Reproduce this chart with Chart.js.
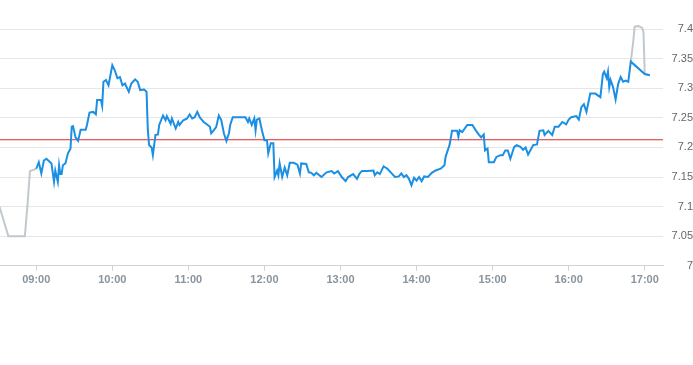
<!DOCTYPE html>
<html>
<head>
<meta charset="utf-8">
<script src="https://cdn.jsdelivr.net/npm/chart.js@4.4.1/dist/chart.umd.min.js"></script>
<style>
  html, body { margin: 0; padding: 0; background: #fff; }
  #wrap { width: 693px; height: 365px; position: relative; }
</style>
</head>
<body>
<div id="wrap"><canvas id="chartCanvas"></canvas></div>
<script>
// pre-market / after-hours (gray)
const preTimes = ["08:31", "08:38", "08:51", "08:53", "08:55", "09:00"];
const preValues = [7.10, 7.05, 7.05, 7.10, 7.16, 7.164];
const postTimes = ["16:49", "16:51", "16:52", "16:55", "16:58", "16:59", "17:00", "17:04"];
const postValues = [7.345, 7.38, 7.404, 7.405, 7.402, 7.395, 7.324, 7.322];

// regular session (blue)
const blueTimes = [
  "09:00","09:02","09:04","09:06","09:08","09:11","09:12","09:14","09:15","09:17",
  "09:18","09:19","09:20","09:21","09:23","09:25","09:27","09:28","09:29","09:31",
  "09:33","09:35","09:39","09:40","09:42","09:45","09:47","09:48","09:51","09:52",
  "09:53","09:55","09:57","10:00","10:02","10:04","10:06","10:08","10:10","10:13",
  "10:15","10:18","10:20","10:22","10:25","10:27","10:28","10:29","10:31","10:32",
  "10:34","10:36","10:37","10:40","10:42","10:43","10:46","10:47","10:50","10:52",
  "10:53","10:56","10:59","11:01","11:03","11:05","11:07","11:09","11:12","11:14",
  "11:17","11:18","11:20","11:22","11:24","11:26","11:28","11:30","11:32","11:33",
  "11:35","11:41","11:45","11:47","11:48","11:50","11:52","11:53","11:54","11:56",
  "11:58","12:00","12:02","12:03","12:05","12:07","12:08","12:10","12:11","12:12",
  "12:14","12:16","12:18","12:20","12:23","12:26","12:28","12:29","12:33","12:35",
  "12:37","12:39","12:41","12:45","12:49","12:53","12:55","12:58","13:01","13:04",
  "13:06","13:10","13:13","13:15","13:17","13:21","13:26","13:27","13:29","13:31",
  "13:34","13:37","13:40","13:43","13:46","13:48","13:50","13:52","13:54","13:56",
  "13:58","14:00","14:02","14:04","14:06","14:09","14:12","14:15","14:19","14:22",
  "14:23","14:26","14:28","14:32","14:33","14:34","14:36","14:40","14:44","14:47",
  "14:49","14:51","14:53","14:54","14:56","14:57","15:01","15:03","15:06","15:08",
  "15:10","15:12","15:14","15:17","15:19","15:22","15:24","15:26","15:28","15:32",
  "15:35","15:37","15:40","15:41","15:44","15:47","15:49","15:52","15:55","15:58",
  "16:00","16:02","16:06","16:08","16:10","16:12","16:14","16:17","16:21","16:23",
  "16:25","16:27","16:28","16:30","16:31","16:32","16:33","16:35","16:37","16:39",
  "16:41","16:43","16:45","16:47","16:49","17:00","17:04"
];
const blueValues = [
  7.164,7.175,7.156,7.178,7.181,7.175,7.173,7.142,7.161,7.142,
  7.170,7.155,7.155,7.170,7.173,7.190,7.198,7.235,7.236,7.217,
  7.211,7.230,7.230,7.238,7.259,7.260,7.256,7.280,7.280,7.270,
  7.311,7.314,7.305,7.339,7.330,7.317,7.319,7.305,7.308,7.294,
  7.308,7.315,7.311,7.297,7.298,7.294,7.230,7.204,7.200,7.187,
  7.221,7.222,7.238,7.254,7.246,7.253,7.240,7.249,7.232,7.243,
  7.238,7.246,7.249,7.256,7.249,7.251,7.260,7.251,7.243,7.240,
  7.235,7.224,7.229,7.235,7.254,7.246,7.224,7.211,7.224,7.238,
  7.251,7.251,7.251,7.243,7.249,7.238,7.249,7.229,7.247,7.249,
  7.229,7.212,7.212,7.190,7.207,7.207,7.150,7.161,7.153,7.173,
  7.150,7.166,7.153,7.174,7.174,7.171,7.156,7.173,7.172,7.158,
  7.157,7.153,7.157,7.150,7.158,7.160,7.156,7.160,7.150,7.143,
  7.150,7.155,7.147,7.156,7.160,7.160,7.161,7.153,7.158,7.155,
  7.168,7.164,7.157,7.150,7.151,7.156,7.150,7.153,7.147,7.136,
  7.149,7.144,7.150,7.143,7.151,7.150,7.157,7.161,7.164,7.170,
  7.185,7.204,7.228,7.228,7.218,7.229,7.226,7.238,7.238,7.228,
  7.222,7.217,7.222,7.195,7.198,7.175,7.175,7.184,7.187,7.187,
  7.195,7.195,7.181,7.201,7.204,7.201,7.196,7.200,7.188,7.204,
  7.205,7.228,7.229,7.221,7.228,7.221,7.235,7.235,7.243,7.239,
  7.247,7.251,7.253,7.247,7.268,7.273,7.260,7.291,7.291,7.288,
  7.285,7.324,7.328,7.317,7.328,7.302,7.314,7.302,7.281,7.307,
  7.319,7.311,7.313,7.311,7.345,7.324,7.322
];

const prevClose = 7.213;
const hourTicks = ["09:00","10:00","11:00","12:00","13:00","14:00","15:00","16:00","17:00"];

const xMin = 511.4;
const xMax = 1034.4;

function toMin(t) {
    const [h, m] = t.split(":").map(Number);
    return h * 60 + m;
}
function fmt(m) {
    const h = Math.floor(m / 60), mm = Math.round(m % 60);
    return String(h).padStart(2, "0") + ":" + String(mm).padStart(2, "0");
}
function pts(times, values) {
    return times.map((t, i) => ({ x: toMin(t), y: values[i] }));
}

const grayData = [...pts(preTimes, preValues), { x: 600, y: null }, ...pts(postTimes, postValues)];

Chart.defaults.font.family = "'Liberation Sans', Arial, sans-serif";

new Chart(document.getElementById("chartCanvas"), {
    type: "line",
    data: {
        datasets: [
            {
                data: pts(blueTimes, blueValues),
                borderColor: "#1a8fe3",
                borderWidth: 2,
                pointRadius: 0,
                tension: 0
            },
            {
                data: [{ x: xMin, y: prevClose }, { x: xMax, y: prevClose }],
                borderColor: "rgb(222, 40, 40)",
                borderWidth: 1,
                pointRadius: 0
            },
            {
                data: grayData,
                borderColor: "#c2c9ce",
                borderWidth: 2,
                pointRadius: 0,
                tension: 0,
                spanGaps: false
            }
        ]
    },
    options: {
        responsive: true,
        maintainAspectRatio: false,
        animation: false,
        layout: { padding: { left: 0, top: 0, right: 0, bottom: 75 } },
        plugins: {
            legend: { display: false },
            tooltip: { enabled: false }
        },
        scales: {
            x: {
                type: "linear",
                min: xMin,
                max: xMax,
                afterBuildTicks: axis => {
                    axis.ticks = hourTicks.map(t => ({ value: toMin(t) }));
                },
                grid: { drawOnChartArea: false, drawTicks: true, tickLength: 5, color: "#cfd3d7" },
                border: { color: "#cfd3d7" },
                ticks: {
                    color: "#8a949c",
                    font: { size: 11, weight: "bold" },
                    padding: 3,
                    maxRotation: 0,
                    autoSkip: false,
                    callback: v => fmt(v)
                }
            },
            y: {
                type: "linear",
                position: "right",
                min: 7,
                max: 7.438,
                afterBuildTicks: axis => {
                    axis.ticks = axis.ticks.filter(t => t.value < 7.41);
                },
                afterFit: axis => { axis.width = 30; },
                grid: { color: "#e6e6e6", drawTicks: true, tickLength: 10, tickColor: "rgba(0,0,0,0)" },
                border: { display: false },
                ticks: {
                    stepSize: 0.05,
                    color: "#666",
                    font: { size: 11 },
                    padding: 0,
                    crossAlign: "far",
                    callback: v => String(+v.toFixed(2))
                }
            }
        }
    }
});
</script>
</body>
</html>
